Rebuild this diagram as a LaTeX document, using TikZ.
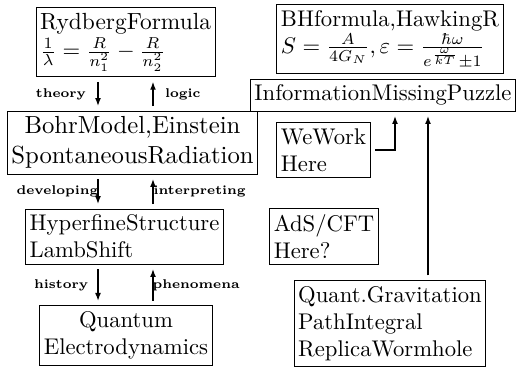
\documentclass[tikz,border=0pt]{standalone}
\usepackage{amsmath}
\usepackage{tikz}
\usetikzlibrary{calc,arrows.meta}

\begin{document}
\begin{tikzpicture}[x=0.441pt,y=-0.441pt,
    box/.style={draw,inner xsep=1.8pt,inner ysep=2.5pt},
    flow/.style={-{Latex[length=3.5pt,width=2.6pt]},semithick,shorten <=2pt,shorten >=2pt},
    tag/.style={font=\fontsize{5.6}{6.5}\selectfont\bfseries,inner sep=1pt}]
\useasboundingbox (0,0) rectangle (516,371);
% left column
\node[box,align=left,font=\fontsize{10.3}{12.6}\selectfont] (ryd) at (125.5,42) {RydbergFormula\\$\frac{1}{\lambda}=\frac{R}{n_1^2}-\frac{R}{n_2^2}$};
\node[box,align=center,font=\fontsize{10.9}{13.1}\selectfont] (bohr) at (132.5,142.5) {BohrModel,Einstein\\SpontaneousRadiation};
\node[box,align=left] (hfs) at (124.5,236.5) {HyperfineStructure\\LambShift};
\node[box,align=center] (qed) at (126,335.5) {Quantum\\Electrodynamics};
% right column
\node[box,align=left] (bh) at (390,39) {BHformula,HawkingR\\$S=\frac{A}{4G_N},\varepsilon=\frac{\hbar\omega}{e^{\frac{\omega}{kT}}\pm1}$};
\node[box] (info) at (383,95) {InformationMissingPuzzle};
\node[box,align=left] (ww) at (323.5,150) {WeWork\\Here};
\node[box,align=left] (ads) at (324,236.5) {AdS/CFT\\Here?};
\node[box,align=left] (qg) at (390,323.5) {Quant.Gravitation\\PathIntegral\\ReplicaWormhole};
% arrow columns
\coordinate (dn) at (98,0);
\coordinate (up) at (153,0);
\coordinate (elbow) at (395,0);
\coordinate (rise) at (428,0);
\draw[flow] (ryd.south -| dn) -- (bohr.north -| dn) node[tag,midway,left=4pt]{theory};
\draw[flow] (bohr.north -| up) -- (ryd.south -| up) node[tag,midway,right=4pt]{logic};
\draw[flow] (bohr.south -| dn) -- (hfs.north -| dn) node[tag,midway,left=-1.5pt]{developing};
\draw[flow] (hfs.north -| up) -- (bohr.south -| up) node[tag,midway,right=-1pt]{interpreting};
\draw[flow] (hfs.south -| dn) -- (qed.north -| dn) node[tag,midway,left=3pt]{history};
\draw[flow] (qed.north -| up) -- (hfs.south -| up) node[tag,midway,right=-1.5pt]{phenomena};
\draw[flow] (ww.east) -| (info.south -| elbow);
\draw[flow] (qg.north -| rise) -- (info.south -| rise);
\end{tikzpicture}
\end{document}
